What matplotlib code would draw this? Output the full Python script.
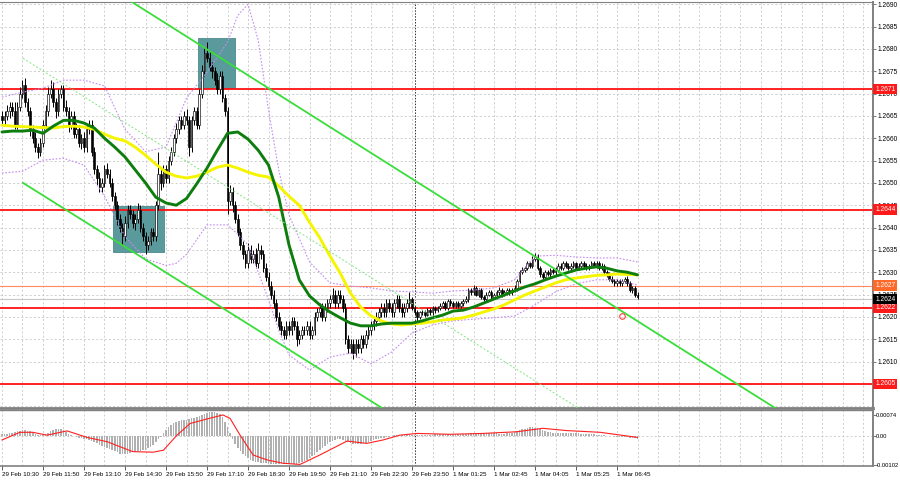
import numpy as np
import matplotlib
matplotlib.use("Agg")
import matplotlib.pyplot as plt
from matplotlib.patches import Rectangle

plt.rcParams['font.family'] = ['Liberation Sans', 'DejaVu Sans']

# ---------------- data (prices in pips above 1.2600, M5 bars) ----------------
BASE = 1.2600
PIP = 0.0001

first_open = 65
closes = [
    64, 65, 66, 67, 66, 63, 67, 70, 72, 68,
    66, 62, 60, 58, 57, 59, 63, 66, 70, 71,
    68, 66, 70, 71, 67, 66, 63, 65, 61, 62,
    59, 60, 58, 62, 63, 57, 53, 51, 49, 50,
    53, 52, 50, 47, 45, 42, 40, 38, 41, 44,
    43, 41, 42, 44, 40, 38, 36, 37, 39, 38,
    45, 52, 50, 53, 51, 55, 57, 60, 62, 64,
    63, 65, 64, 58, 64, 66, 63, 70, 75, 79,
    78, 76, 75, 73, 71, 74, 69, 66, 46, 48,
    45, 42, 39, 36, 34, 32, 35, 33, 34, 32,
    35, 34, 31, 29, 27, 25, 23, 20, 18, 17,
    16, 18, 17, 19, 18, 15, 16, 17, 17, 18,
    16, 17, 20, 21, 22, 20, 22, 23, 24, 25,
    23, 25, 24, 22, 15, 13, 14, 12, 14, 13,
    15, 14, 16, 17, 18, 19, 20, 21, 22, 21,
    23, 22, 21, 23, 24, 22, 21, 22, 23, 24,
    22, 21, 20, 21, 21, 20.5, 21.5, 21, 22, 21.5,
    22, 22.5, 23, 22, 23.5, 23, 22.5, 23, 22.5, 23,
    23.5, 24, 26, 25.5, 26.5, 25, 26, 24.5, 24, 25,
    25.5, 24.5, 25, 25.5, 26, 25, 25.5, 26, 25.5, 26,
    26.5, 28, 30, 30.5, 31, 32, 31.5, 33, 33.5, 31,
    29.5, 29, 30, 29.5, 30.5, 30, 30.5, 31.5, 31, 32,
    31.5, 31, 31.5, 32, 31, 31.5, 32, 31.5, 31, 31.5,
    32, 31.5, 32, 31, 31.5, 30, 29.5, 28.5, 28, 27.5,
    28, 27.5, 28, 28.5, 27.5, 26, 26.5, 25, 24.5,
]
upper_wick = [
    1, 1, 1.5, 1, 1, 2, 1, 1.5, 1, 1.5,
    1, 1, 1, 1.5, 1, 1, 1, 1.5, 1.5, 2,
    1.5, 1, 1, 1, 1, 1.5, 1, 1, 1, 1.5,
    1, 1, 1.5, 1, 1, 1, 1, 1, 1.5, 1,
    1, 1.5, 1, 1, 1, 1, 1, 1, 1.5, 1,
    1, 1, 1, 1.5, 1, 1, 1, 1, 1, 1,
    1, 5, 1.5, 1, 1, 1, 1, 1, 1.5, 1,
    1, 1, 1.5, 1, 1, 1, 1, 1, 1.5, 1.5,
    2.5, 1.5, 1, 1, 1.5, 1, 1, 1, 1, 1.5,
    1, 1, 1, 1, 1, 1, 1.5, 1, 1, 1.5,
    1.5, 1, 1, 1, 1, 1, 1, 1, 1, 1,
    1, 1, 1, 1, 1, 1, 1, 1, 1, 1,
    1, 1, 1, 1, 1, 1, 1, 1, 1, 1.5,
    1, 1, 1, 1, 1, 1, 1, 1, 1, 1,
    1, 1, 1, 1, 1, 1, 1, 1, 1, 1,
    1, 1, 1, 1, 1, 1, 1, 1, 1, 1.5,
    0.5, 0.6, 0.5, 0.4, 0.5, 0.6, 0.5, 0.5, 0.4, 0.5,
    0.5, 0.6, 0.5, 0.5, 0.4, 0.5, 0.6, 0.5, 0.5, 0.5,
    0.5, 0.6, 0.5, 0.5, 0.6, 0.5, 0.4, 0.5, 0.5, 0.6,
    0.5, 0.5, 0.4, 0.5, 0.6, 0.5, 0.5, 0.4, 0.5, 0.5,
    0.6, 0.5, 0.5, 0.6, 0.5, 0.5, 0.4, 0.6, 0.8, 0.5,
    0.5, 0.6, 0.5, 0.4, 0.5, 0.5, 0.6, 0.5, 0.5, 0.5,
    0.5, 0.6, 0.5, 0.5, 0.4, 0.5, 0.6, 0.5, 0.5, 0.4,
    0.5, 0.5, 0.6, 0.5, 0.5, 0.4, 0.5, 0.5, 0.6, 0.5,
    0.5, 0.5, 0.4, 0.5, 0.6, 0.5, 0.5, 0.4, 0.5,
]
lower_wick = [
    1, 1, 1, 1.5, 1, 1, 1, 1, 1, 1,
    1, 1.5, 1, 1, 1.5, 1, 1, 1, 1, 1,
    1, 1.5, 1, 1, 1, 1, 1.5, 1, 1, 1,
    1, 1.5, 1, 1, 1, 1, 1, 1.5, 1, 1,
    1, 1, 1, 1, 1, 1.5, 1, 2, 1, 1,
    1, 1, 1.5, 1, 1, 1, 2, 1, 1, 1,
    1, 1, 1.5, 1, 1, 1, 1, 1, 1, 1,
    1, 1, 1, 2, 1, 1, 1, 1, 1, 1,
    1, 1, 1.5, 1, 1, 1, 1, 1, 3, 1,
    1.5, 1, 1, 1, 1, 1, 1, 1, 1, 1,
    1, 1, 1, 1, 1, 1, 1, 1, 1, 1,
    1, 1, 1, 1, 1, 1.5, 1, 1, 1, 1,
    1, 1, 1, 1, 1, 1, 1, 1, 1, 1,
    1, 1, 1, 1, 1, 1, 1, 1.5, 1, 1,
    1, 1, 1, 1, 1, 1, 1, 1, 1, 1,
    1, 1, 1, 1, 1, 1, 1, 1, 1, 1,
    0.5, 0.5, 1, 0.5, 0.6, 0.5, 0.4, 0.5, 0.5, 0.6,
    0.5, 0.5, 0.4, 0.5, 0.5, 0.6, 0.5, 0.5, 0.4, 0.5,
    0.5, 0.5, 0.6, 0.5, 0.5, 0.4, 0.5, 0.6, 0.5, 0.5,
    0.4, 0.5, 0.5, 0.6, 0.5, 0.5, 0.4, 0.5, 0.5, 0.5,
    0.5, 0.6, 0.5, 0.5, 0.4, 0.5, 0.5, 0.6, 0.5, 0.5,
    0.6, 0.5, 0.5, 0.4, 0.5, 0.5, 0.6, 0.5, 0.5, 0.4,
    0.5, 0.5, 0.6, 0.5, 0.5, 0.4, 0.5, 0.5, 0.6, 0.5,
    0.5, 0.4, 0.5, 0.5, 0.6, 0.5, 0.5, 0.4, 0.5, 0.5,
    0.6, 0.5, 0.5, 0.4, 0.5, 0.5, 0.6, 0.5, 0.5,
]

# moving averages, read every 4 bars
ma_bars = list(range(0, 249, 4))
green_ma = [61.4, 61.6, 61.6, 61.8, 61.1, 62.7, 64.0, 64.0, 63.4, 62.3,
            60.0, 58.0, 55.8, 52.9, 50.0, 46.8, 45.5, 45.0, 46.5, 49.8,
            53.3, 57.3, 61.1, 61.4, 59.8, 57.3, 54.0, 46.8, 36.1, 28.3,
            24.7, 22.7, 21.1, 19.8, 18.6, 18.0, 18.0, 18.4, 18.6, 18.6,
            18.6, 19.1, 19.8, 20.4, 21.3, 21.5, 22.2, 23.1, 24.0, 24.9,
            25.8, 26.7, 27.4, 28.3, 29.1, 29.8, 30.5, 30.9, 31.2, 30.9,
            30.3, 30.0, 29.4]
yellow_ma = [62.9, 62.7, 62.6, 62.5, 62.4, 62.3, 62.6, 62.7, 62.5, 62.0,
             60.9, 60.0, 59.4, 58.0, 56.2, 54.2, 52.4, 51.5, 51.1, 51.5,
             52.4, 53.5, 54.0, 53.3, 52.4, 51.7, 51.3, 49.3, 47.0, 45.0,
             41.2, 37.7, 33.6, 29.8, 25.3, 22.2, 20.2, 19.1, 18.4, 18.2,
             18.4, 18.6, 18.9, 19.3, 19.5, 19.8, 20.4, 21.1, 21.8, 22.7,
             23.8, 24.9, 25.8, 26.7, 27.6, 28.3, 28.7, 29.0, 29.3, 29.4,
             29.6, 29.5, 29.4]

# Bollinger bands (violet dotted)
bb_bars = [0, 8, 16, 24, 32, 40, 48, 56, 64, 68, 72, 80, 88, 92, 96, 100, 104, 108,
           112, 120, 128, 136, 144, 152, 160, 168, 176, 184, 192, 200, 208, 216,
           224, 232, 240, 248]
bb_upper = [69.2, 70.3, 71.2, 73.0, 73.0, 71.7, 62.0, 57.0, 58.0, 63.5, 69.0, 74.8,
            81.5, 87.5, 90.0, 81.9, 66.3, 52.9, 42.8, 32.3, 27.6, 26.9, 26.5, 25.8,
            25.6, 25.3, 25.8, 26.0, 26.5, 28.3, 33.6, 33.8, 33.4, 33.2, 33.2, 32.3]
bb_lower = [52.2, 52.6, 55.1, 55.5, 54.0, 47.0, 38.0, 33.0, 31.5, 32.0, 34.0, 40.6,
            40.6, 38.5, 36.1, 30.0, 23.8, 17.0, 11.5, 8.1, 11.0, 11.9, 9.5, 12.1,
            16.4, 18.2, 19.1, 19.5, 19.8, 20.2, 22.7, 25.6, 27.4, 28.3, 28.3, 27.1]

# MACD histogram (units 1e-5) and signal line
macd_hist = [
    6, 7, 8, 10, 12, 14, 16, 18, 20, 20,
    19, 16, 12, 8, 5, 3, 4, 8, 12, 16,
    20, 24, 25, 24, 20, 14, 8, 3, 0, -3,
    -6, -8, -10, -12, -14, -18, -22, -26, -30, -34,
    -38, -42, -46, -50, -54, -58, -62, -64, -64, -62,
    -60, -58, -56, -54, -52, -50, -48, -44, -38, -30,
    -22, -12, -2, 10, 20, 30, 38, 44, 48, 52,
    55, 57, 58, 60, 62, 64, 66, 70, 74, 78,
    82, 84, 85, 84, 82, 76, 66, 50, 30, 10,
    -10, -28, -42, -54, -64, -72, -78, -84, -88, -90,
    -92, -94, -95, -96, -97, -98, -98, -99, -99, -100,
    -100, -100, -99, -99, -98, -97, -95, -92, -88, -84,
    -78, -72, -66, -58, -50, -42, -34, -27, -21, -16,
    -13, -12, -12, -14, -18, -22, -25, -27, -28, -28,
    -27, -25, -23, -21, -18, -15, -12, -10, -8, -6,
    -4, -2, 0, 2, 3, 4, 5, 5, 6, 6,
    5, 5, 4, 4, 4, 5, 5, 5, 5, 6,
    6, 6, 6, 7, 7, 7, 7, 7, 7, 7,
    8, 8, 9, 9, 9, 9, 10, 10, 10, 9,
    9, 9, 9, 9, 8, 8, 8, 9, 10, 12,
    14, 17, 20, 23, 26, 28, 30, 30, 29, 27,
    24, 20, 17, 15, 13, 12, 11, 11, 11, 10,
    10, 10, 10, 9, 9, 9, 8, 8, 7, 7,
    6, 6, 5, 4, 3, 2, 1, 0, -1, -2,
    -2, -3, -3, -4, -5, -6, -7, -8, -9,
]
sig_bars = [0, 7, 12, 17.6, 25.4, 33.2, 41, 51, 59, 63, 68.3, 73.4, 80, 86.2, 89, 92.9,
            98, 103.4, 109.7, 116.3, 124, 134.6, 142.4, 148.7, 155.3, 162, 174.8,
            187.7, 201, 211, 220.5, 233.4, 248]
sig_vals = [-14, 13, 13, 3, 18, -5, -20, -55, -57, -50, 3, 44, 60, 74, 62, 3,
            -67, -84, -96, -100, -67, -18, -26, -14, 3, 9, 6, 9, 15, 27, 19, 13, -5]

# price scale labels (1.2605 sits under its level tag and is not shown)
price_ticks = [1.2610, 1.2615, 1.2620, 1.2625, 1.2630, 1.2635, 1.2640, 1.2645,
               1.2650, 1.2655, 1.2660, 1.2665, 1.2670, 1.2675, 1.2680, 1.2685, 1.2690]
price_tick_labels = ['%.4f' % p for p in price_ticks]
grid_prices = [1.2600, 1.2605] + price_ticks

# levels and annotations
red_levels = [1.2671, 1.2644, 1.2622, 1.2605]
orange_level = 1.2627
bid_level = 1.2624
day_break_bar = 161.2
boxes = [(43.3, 1.26345, 63.2, 1.26448), (76.5, 1.26712, 91.0, 1.26824)]
channel_upper = [(50.7, 1.26905), (301.7, 1.25996)]
channel_lower = [(8.2, 1.26500), (148.3, 1.25996)]
channel_mid = [(8.2, 1.26779), (224.8, 1.25996)]
target_point = (242, 1.26202)

time_label_bars = [0, 16, 32, 48, 64, 80, 96, 112, 128, 144, 160, 176, 192, 208, 224, 240]
time_labels = ["29 Feb 10:30", "29 Feb 11:50", "29 Feb 13:10", "29 Feb 14:30",
               "29 Feb 15:50", "29 Feb 17:10", "29 Feb 18:30", "29 Feb 19:50",
               "29 Feb 21:10", "29 Feb 22:30", "29 Feb 23:50", "1 Mar 01:25",
               "1 Mar 02:45", "1 Mar 04:05", "1 Mar 05:25", "1 Mar 06:45"]

# ---------------- figure ----------------
W, H = 900, 484
fig = plt.figure(figsize=(W / 100, H / 100), dpi=100)
fig.patch.set_facecolor('white')
right_px = 873
ax = fig.add_axes([0, 1 - 408 / H, right_px / W, (408 - 2) / H])
axm = fig.add_axes([0, 1 - 466 / H, right_px / W, (466 - 410) / H], sharex=ax)

xmin, xmax = -0.78, 339.9
ax.set_xlim(xmin, xmax)
ax.set_ylim(1.25996, 1.26905)
axm.set_ylim(-0.001056, 0.000915)

grid_kw = dict(color='#c8c8c8', lw=0.6, ls=(0, (2.5, 2.5)), zorder=0)
for gx in np.arange(0, xmax, 8):
    ax.axvline(gx, **grid_kw)
    axm.axvline(gx, **grid_kw)
for gy in grid_prices:
    ax.axhline(gy, **grid_kw)
axm.axhline(0, **grid_kw)

# day separator
ax.axvline(day_break_bar, color='#303030', lw=0.7, ls=(0, (1.5, 1.5)), zorder=1)
axm.axvline(day_break_bar, color='#303030', lw=0.7, ls=(0, (1.5, 1.5)), zorder=1)

# boxes
for (x0, y0, x1, y1) in boxes:
    ax.add_patch(Rectangle((x0, y0), x1 - x0, y1 - y0, facecolor='#5a9a9c',
                           edgecolor='#4a8a8c', lw=0.6, zorder=1.5))

# levels
for lv in red_levels:
    ax.axhline(lv, color='#ff1010', lw=1.3, zorder=2.5)
ax.axhline(orange_level, color='#ff8a60', lw=0.8, zorder=2.5)
ax.axhline(bid_level, color='#c8c8c8', lw=0.8, zorder=2.4)

# candles
c = BASE + np.array(closes) * PIP
o = BASE + np.array([first_open] + closes[:-1]) * PIP
hi = np.maximum(o, c) + np.array(upper_wick) * PIP
lo = np.minimum(o, c) - np.array(lower_wick) * PIP
idx = np.arange(len(c))
ax.vlines(idx, lo, hi, color='black', lw=0.7, zorder=3)
bot = np.minimum(o, c)
hgt = np.maximum(np.abs(c - o), 0.000015)
up = c >= o
ax.bar(idx[up], hgt[up], bottom=bot[up], width=0.65, color='white',
       edgecolor='black', linewidth=0.45, zorder=3.1)
ax.bar(idx[~up], hgt[~up], bottom=bot[~up], width=0.65, color='black',
       edgecolor='black', linewidth=0.45, zorder=3.1)

# bands
bb_style = dict(color='#c48cf0', lw=0.8, ls=(0, (1.5, 1.5)), zorder=3.5)
ax.plot(bb_bars, BASE + np.array(bb_upper) * PIP, **bb_style)
ax.plot(bb_bars, BASE + np.array(bb_lower) * PIP, **bb_style)

# moving averages
ax.plot(ma_bars, BASE + np.array(yellow_ma) * PIP, color='#f5f500', lw=2.1,
        solid_capstyle='round', zorder=4)
ax.plot(ma_bars, BASE + np.array(green_ma) * PIP, color='#0d7d0d', lw=2.1,
        solid_capstyle='round', zorder=4.2)

# channel lines
for seg, sty in ((channel_upper, dict(color='#3add3a', lw=1.3)),
                 (channel_lower, dict(color='#3add3a', lw=1.3)),
                 (channel_mid, dict(color='#7fe67f', lw=0.7, ls=(0, (2, 2))))):
    ax.plot([seg[0][0], seg[1][0]], [seg[0][1], seg[1][1]], zorder=4.5, **sty)

ax.plot([target_point[0]], [target_point[1]], marker='o', ms=4, mfc='none',
        mec='#ff4040', mew=0.8, zorder=5)

# MACD
hv = np.array(macd_hist) * 1e-5
axm.bar(np.arange(len(hv)), hv, width=0.6, color='#b0b0b0', zorder=2)
axm.plot(sig_bars, np.array(sig_vals) * 1e-5, color='#ff2020', lw=0.8, zorder=3)

# axes styling
for a in (ax, axm):
    a.set_facecolor('white')
    a.spines['left'].set_visible(False)
    for s in ('top', 'right', 'bottom'):
        a.spines[s].set_color('#808080')
    a.spines['right'].set_linewidth(1.4)
ax.spines['top'].set_linewidth(0.8)
ax.spines['bottom'].set_linewidth(2.0)
axm.spines['top'].set_linewidth(1.0)
axm.spines['bottom'].set_linewidth(1.2)

ax.yaxis.tick_right()
ax.set_yticks(price_ticks)
ax.set_yticklabels(price_tick_labels)
ax.tick_params(axis='y', which='major', length=2.5, width=0.6, color='#606060',
               labelsize=4.8, pad=0.8)
ax.tick_params(axis='x', which='both', bottom=False, labelbottom=False)

axm.yaxis.tick_right()
axm.set_yticks([0.00074, 0.0, -0.00102])
axm.set_yticklabels(['0.00074', '0.00', '-0.00102'])
axm.tick_params(axis='y', length=1.8, width=0.6, color='#606060', labelsize=4.2, pad=0.4)
axm.set_xticks(time_label_bars)
axm.set_xticklabels(time_labels)
axm.tick_params(axis='x', length=3, width=0.6, color='#404040', labelsize=4.5, pad=1.5)
for t in axm.get_xticklabels():
    t.set_ha('left')

# right-hand price tags
def tag(y, text, fc, tc='white'):
    ax.annotate(text, xy=(1, y), xycoords=('axes fraction', 'data'),
                xytext=(1.6, 0), textcoords='offset points', ha='left', va='center',
                fontsize=4.8, color=tc, annotation_clip=False, zorder=10,
                bbox=dict(boxstyle='square,pad=0.28', fc=fc, ec='none'))

for lv in red_levels:
    tag(lv, '%.4f' % lv, '#ff1a1a')
tag(orange_level, '%.4f' % orange_level, '#ff6a2a')
tag(bid_level, '%.4f' % bid_level, 'black')

fig.savefig('out.png', dpi=100, facecolor='white')
